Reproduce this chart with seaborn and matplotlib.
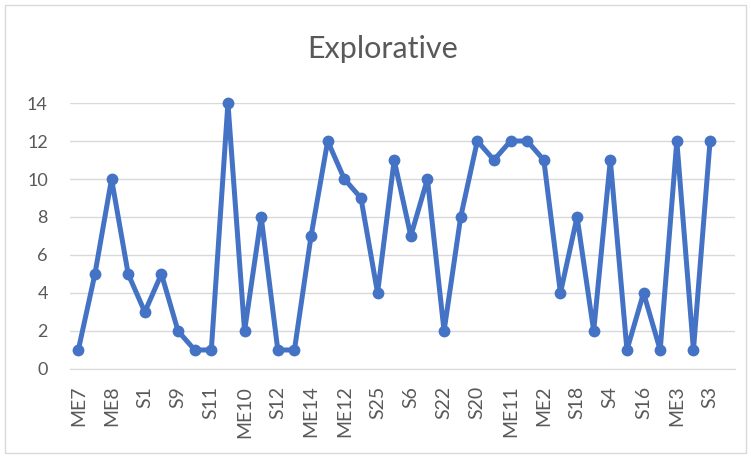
import numpy as np
import pandas as pd
import seaborn as sns
import matplotlib.pyplot as plt
from matplotlib.patches import Rectangle

# every second category is labelled on the axis (Excel skips the rest)
shown_labels = ['ME7', 'ME8', 'S1', 'S9', 'S11', 'ME10', 'S12', 'ME14', 'ME12', 'S25',
                'S6', 'S22', 'S20', 'ME11', 'ME2', 'S18', 'S4', 'S16', 'ME3', 'S3']
values = [1, 5, 10, 5, 3, 5, 2, 1, 1, 14, 2, 8, 1, 1, 7, 12, 10, 9, 4, 11,
          7, 10, 2, 8, 12, 11, 12, 12, 11, 4, 8, 2, 11, 1, 4, 1, 12, 1, 12]

df = pd.DataFrame({'pos': np.arange(len(values)), 'score': values})

sns.set_style('white')
plt.rcParams['font.family'] = ['Lato', 'DejaVu Sans']

fig = plt.figure(figsize=(7.51, 4.57), dpi=100)
ax = fig.add_axes([0.0932, 0.1926, 0.8855, 0.582])

sns.lineplot(data=df, x='pos', y='score', ax=ax, color='#4472C4', linewidth=3.6,
             marker='o', markersize=8.5, markeredgewidth=0, clip_on=False)

# the category axis has one trailing empty slot, so leave room for it
ax.set_xlim(-0.5, len(values) + 0.5)
ax.set_ylim(0, 14)
ax.set_yticks(range(0, 15, 2))
ax.set_xticks(range(0, len(values), 2))
ax.set_xticklabels(shown_labels, rotation=90, fontsize=14, color='#595959')
ax.tick_params(axis='y', labelsize=13, labelcolor='#595959', length=0, pad=16)
ax.tick_params(axis='x', length=0, pad=12)
ax.grid(axis='y', color='#D9D9D9', linewidth=1)
ax.set_axisbelow(True)
for side in ['top', 'right', 'left']:
    ax.spines[side].set_visible(False)
ax.spines['bottom'].set_color('#D9D9D9')
ax.set_xlabel('')
ax.set_ylabel('')

fig.text(0.51, 0.893, 'Explorative', ha='center', va='center', fontsize=22, color='#595959')

# light frame around the chart
fig.patches.append(Rectangle((0.007, 0.008), 0.986, 0.98, transform=fig.transFigure,
                             fill=False, edgecolor='#D9D9D9', linewidth=1))

fig.savefig('out.png', dpi=100)
